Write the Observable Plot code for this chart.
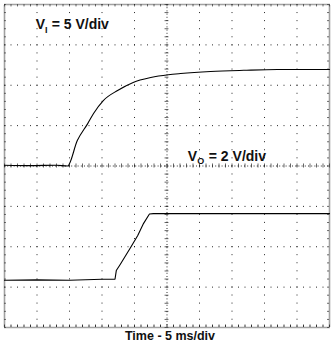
<!DOCTYPE html>
<html>
<head>
<meta charset="utf-8">
<script src="https://cdn.jsdelivr.net/npm/d3@7"></script>
<script src="https://cdn.jsdelivr.net/npm/@observablehq/plot@0.6"></script>
<style>
  html, body { margin: 0; padding: 0; background: white; }
  svg { display: block; }
</style>
</head>
<body>
<div id="chart"></div>
<script>
// ---- data ----
// input voltage V_I (volts), 5 V/div, ground at centre line
const viTime = [0, 4, 8, 9.7, 11.2, 12.8, 13.7, 15.2, 17.4, 19.8, 22.5, 25.2, 27.1, 31.7, 36.8, 42.0, 50];
const viVolt = [0.1, 0.05, 0.1, 0, 3.15, 5.25, 6.5, 8.1, 9.35, 10.35, 10.95, 11.3, 11.45, 11.7, 11.85, 11.95, 11.95];
// output voltage V_O (volts), 2 V/div, ground 2.83 div below centre
const voTime = [0, 5, 10, 15, 17.0, 17.2, 17.8, 19.4, 20.5, 21.4, 22.3, 22.9, 30, 40, 50];
const voVolt = [0, 0.02, 0, 0.05, 0.05, 0.48, 0.78, 1.62, 2.22, 2.82, 3.28, 3.3, 3.3, 3.3, 3.3];
const viScale = 5, voScale = 2, viOffsetDiv = 0, voOffsetDiv = -2.83;

const viLabel = ["V", "I", "= 5 V/div"];
const voLabel = ["V", "O", "= 2 V/div"];
const xLabel = "Time - 5 ms/div";

// graticule
const majorX = [5, 10, 15, 20, 30, 35, 40, 45];
const majorY = [-3, -2, -1, 1, 2, 3];
const minorX = d3.range(0, 50.001, 1);
const minorY = d3.range(-4, 4.001, 0.2);

const vi = viTime.map((t, i) => ({t, d: viVolt[i] / viScale + viOffsetDiv}));
const vo = voTime.map((t, i) => ({t, d: voVolt[i] / voScale + voOffsetDiv}));

const font = "'Liberation Sans', Arial, Helvetica, sans-serif";
const txt = {fill: "#111", fontWeight: "bold", fontFamily: font, textAnchor: "start"};

const chart = Plot.plot({
  width: 333,
  height: 353,
  marginTop: 4,
  marginLeft: 4,
  marginRight: 4,
  marginBottom: 26,
  x: {domain: [0, 50], axis: null},
  y: {domain: [-4, 4], axis: null},
  style: {background: "white", fontFamily: font},
  marks: [
    Plot.ruleX(majorX, {stroke: "#000", strokeDasharray: "1,7.07", strokeWidth: 1, strokeOpacity: 0.85}),
    Plot.ruleY(majorY, {stroke: "#000", strokeDasharray: "1,5.5", strokeWidth: 1, strokeOpacity: 0.85}),
    Plot.ruleX([25], {stroke: "#000", strokeDasharray: "1,2.2", strokeWidth: 1, strokeOpacity: 0.8}),
    Plot.ruleY([0], {stroke: "#000", strokeDasharray: "1,2.2", strokeWidth: 1, strokeOpacity: 0.8}),
    Plot.ruleX(minorX, {y1: -0.05, y2: 0.05, stroke: "#000", strokeOpacity: 0.6}),
    Plot.ruleY(minorY, {x1: 24.7, x2: 25.3, stroke: "#000", strokeOpacity: 0.6}),
    Plot.ruleX(minorX, {y1: -4, y2: -3.94, stroke: "#000", strokeOpacity: 0.8}),
    Plot.ruleX(minorX, {y1: 3.94, y2: 4, stroke: "#000", strokeOpacity: 0.6}),
    Plot.ruleY(minorY, {x1: 0, x2: 0.3, stroke: "#000", strokeOpacity: 0.6}),
    Plot.ruleY(minorY, {x1: 49.7, x2: 50, stroke: "#000", strokeOpacity: 0.6}),
    Plot.frame({stroke: "#444", strokeWidth: 1.6, strokeDasharray: "1,1"}),
    Plot.line(vi, {x: "t", y: "d", stroke: "#000", strokeWidth: 1.1, curve: "monotone-x"}),
    Plot.line(vo, {x: "t", y: "d", stroke: "#000", strokeWidth: 1.1, curve: "linear"}),
    // V_I label
    Plot.text([viLabel[0]], {...txt, x: () => 4.8, y: () => 3.5, fontSize: 14}),
    Plot.text([viLabel[1]], {...txt, x: () => 4.8, y: () => 3.5, dx: 9.4, dy: 5, fontSize: 9}),
    Plot.text([viLabel[2]], {...txt, x: () => 4.8, y: () => 3.5, dx: 16, fontSize: 14}),
    // V_O label
    Plot.text([voLabel[0]], {...txt, x: () => 28.2, y: () => 0.24, fontSize: 14}),
    Plot.text([voLabel[1]], {...txt, x: () => 28.2, y: () => 0.24, dx: 9.4, dy: 5, fontSize: 9}),
    Plot.text([voLabel[2]], {...txt, x: () => 28.2, y: () => 0.24, dx: 21, fontSize: 14}),
    // x label
    Plot.text([xLabel], {fill: "#111", fontWeight: "bold", fontFamily: font, fontSize: 12.5,
      frameAnchor: "bottom", dx: 3, dy: 12})
  ]
});
document.getElementById("chart").appendChild(chart);
</script>
</body>
</html>
